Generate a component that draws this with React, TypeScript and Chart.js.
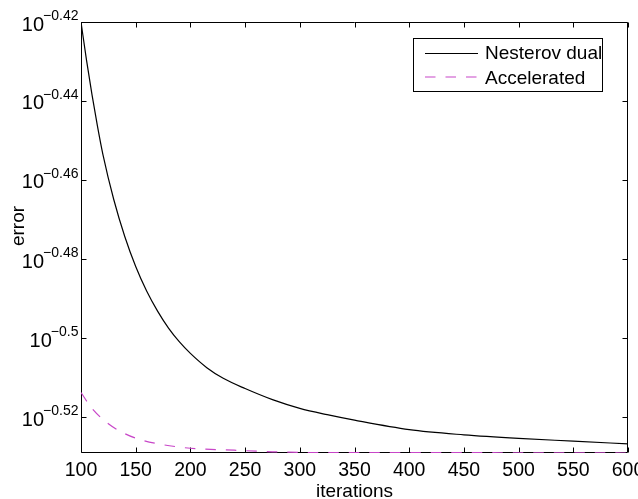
import { useEffect, useRef } from "react";
import { Chart, registerables } from "chart.js";

Chart.register(...registerables);

const nesterovIterations = [100, 105, 110, 115, 120, 130, 140, 150, 160, 170, 180, 190, 200, 215, 230, 250, 275, 300, 325, 350, 400, 450, 500, 550, 600];
const nesterovError = [0.38019, 0.37188, 0.3645, 0.35785, 0.35196, 0.34277, 0.33551, 0.32969, 0.32501, 0.32122, 0.31806, 0.3155, 0.3134, 0.31081, 0.30889, 0.30705, 0.30507, 0.30353, 0.30241, 0.30144, 0.29978, 0.29888, 0.29826, 0.29778, 0.2973];
const acceleratedIterations = [100, 110, 125, 140, 155, 173, 190, 200, 240, 275, 320, 400, 500, 600];
const acceleratedError = [0.30634, 0.30353, 0.30082, 0.29909, 0.29799, 0.29723, 0.29675, 0.29655, 0.29621, 0.29594, 0.2958, 0.2958, 0.29577, 0.29573];

const xTickValues = [100, 150, 200, 250, 300, 350, 400, 450, 500, 550, 600];
const yTickValues = [0.38019, 0.36308, 0.34674, 0.33113, 0.31623, 0.302];
const yTickExponents = ["\u22120.42", "\u22120.44", "\u22120.46", "\u22120.48", "\u22120.5", "\u22120.52"];
const yMin = 0.29573;
const yMax = 0.38019;

const seriesNames = ["Nesterov dual", "Accelerated"];
const FONT = "'Liberation Sans', Arial, sans-serif";
const MAGENTA = "rgb(200, 70, 200)";

const matlabPlugin = {
  id: "matlabDecor",
  beforeDatasetsDraw(chart: any) {
    const { ctx, chartArea: a, scales } = chart;
    const xs = scales.x;
    const ys = scales.y;
    const L = Math.round(a.left) + 0.5;
    const R = Math.round(a.right) - 0.5;
    const T = Math.round(a.top) + 0.5;
    const B = Math.round(a.bottom) - 0.5;
    ctx.save();
    ctx.strokeStyle = "#000";
    ctx.lineWidth = 1;
    ctx.setLineDash([]);
    ctx.beginPath();
    ctx.rect(L, T, R - L, B - T);
    ctx.stroke();
    const tl = 5;
    ctx.beginPath();
    xTickValues.forEach((v) => {
      const px = Math.round(xs.getPixelForValue(v)) + 0.5;
      ctx.moveTo(px, B);
      ctx.lineTo(px, B - tl);
      ctx.moveTo(px, T);
      ctx.lineTo(px, T + tl);
    });
    yTickValues.forEach((v) => {
      const py = Math.round(ys.getPixelForValue(v)) + 0.5;
      ctx.moveTo(L, py);
      ctx.lineTo(L + tl, py);
      ctx.moveTo(R, py);
      ctx.lineTo(R - tl, py);
    });
    ctx.stroke();
    ctx.restore();
  },
  afterDatasetsDraw(chart: any) {
    const { ctx, chartArea: a, scales } = chart;
    const ys = scales.y;
    ctx.save();
    // y tick labels with superscripts
    ctx.fillStyle = "#000";
    ctx.textBaseline = "alphabetic";
    yTickValues.forEach((v, i) => {
      const py = ys.getPixelForValue(v);
      ctx.font = `14px ${FONT}`;
      ctx.textAlign = "right";
      const sup = yTickExponents[i];
      const supW = ctx.measureText(sup).width;
      const right = a.left - 2.5;
      ctx.fillText(sup, right, py - 2);
      ctx.font = `20px ${FONT}`;
      ctx.fillText("10", right - supW + 1, py + 8.5);
    });

    // axis titles
    ctx.font = `19px ${FONT}`;
    ctx.textAlign = "center";
    ctx.fillText("iterations", (a.left + a.right) / 2, 497);
    ctx.save();
    ctx.translate(23.5, 226);
    ctx.rotate(-Math.PI / 2);
    ctx.fillText("error", 0, 0);
    ctx.restore();

    // legend
    const bx = 413.5, by = 38.5, bw = 189, bh = 53;
    ctx.fillStyle = "#fff";
    ctx.fillRect(bx, by, bw, bh);
    ctx.strokeStyle = "#000";
    ctx.lineWidth = 1;
    ctx.strokeRect(bx, by, bw, bh);
    const rows = [
      { line: 53.5, base: 58.5, color: "#000", dash: [] as number[] },
      { line: 77, base: 83.5, color: MAGENTA, dash: [10.5, 10] },
    ];
    rows.forEach((r, i) => {
      ctx.beginPath();
      ctx.strokeStyle = r.color;
      ctx.lineWidth = 1.2;
      ctx.setLineDash(r.dash);
      ctx.moveTo(425, r.line);
      ctx.lineTo(478, r.line);
      ctx.stroke();
      ctx.setLineDash([]);
      ctx.fillStyle = "#000";
      ctx.font = `19px ${FONT}`;
      ctx.textAlign = "left";
      ctx.fillText(seriesNames[i], 485, r.base);
    });
    ctx.restore();
  },
};

export default function App() {
  const canvasRef = useRef<HTMLCanvasElement | null>(null);

  useEffect(() => {
    if (!canvasRef.current) return;
    const chart = new Chart(canvasRef.current, {
      type: "line",
      data: {
        datasets: [
          {
            label: seriesNames[0],
            data: nesterovIterations.map((x, i) => ({ x, y: nesterovError[i] })),
            borderColor: "#000",
            borderWidth: 1.2,
            pointRadius: 0,
            fill: false,
            cubicInterpolationMode: "monotone",
          },
          {
            label: seriesNames[1],
            data: acceleratedIterations.map((x, i) => ({ x, y: acceleratedError[i] })),
            borderColor: MAGENTA,
            borderWidth: 1.2,
            borderDash: [10.5, 10],
            pointRadius: 0,
            fill: false,
            cubicInterpolationMode: "monotone",
          },
        ],
      },
      options: {
        animation: false,
        responsive: true,
        maintainAspectRatio: false,
        layout: { padding: { left: 0, right: 10, top: 22, bottom: 0 } },
        plugins: { legend: { display: false }, tooltip: { enabled: false } },
        scales: {
          x: {
            type: "linear",
            min: 100,
            max: 600,
            grid: { display: false, drawTicks: false },
            border: { display: false },
            afterBuildTicks: (s: any) => {
              s.ticks = xTickValues.map((v) => ({ value: v }));
            },
            afterFit: (s: any) => {
              s.height = 46;
              s.paddingLeft = 0;
              s.paddingRight = 0;
            },
            ticks: {
              autoSkip: false,
              maxRotation: 0,
              padding: 6,
              color: "#000",
              font: { family: FONT, size: 19.5 },
            },
          },
          y: {
            type: "logarithmic",
            min: yMin,
            max: yMax,
            grid: { display: false, drawTicks: false },
            border: { display: false },
            afterBuildTicks: (s: any) => {
              s.ticks = yTickValues.map((v) => ({ value: v }));
            },
            afterFit: (s: any) => {
              s.width = 81;
              s.paddingTop = 0;
              s.paddingBottom = 0;
            },
            ticks: { display: false },
          },
        },
      },
      plugins: [matlabPlugin],
    } as any);
    return () => chart.destroy();
  }, []);

  return (
    <div style={{ position: "fixed", left: 0, top: 0, width: 638, height: 499, background: "#fff" }}>
      <canvas ref={canvasRef} />
    </div>
  );
}
